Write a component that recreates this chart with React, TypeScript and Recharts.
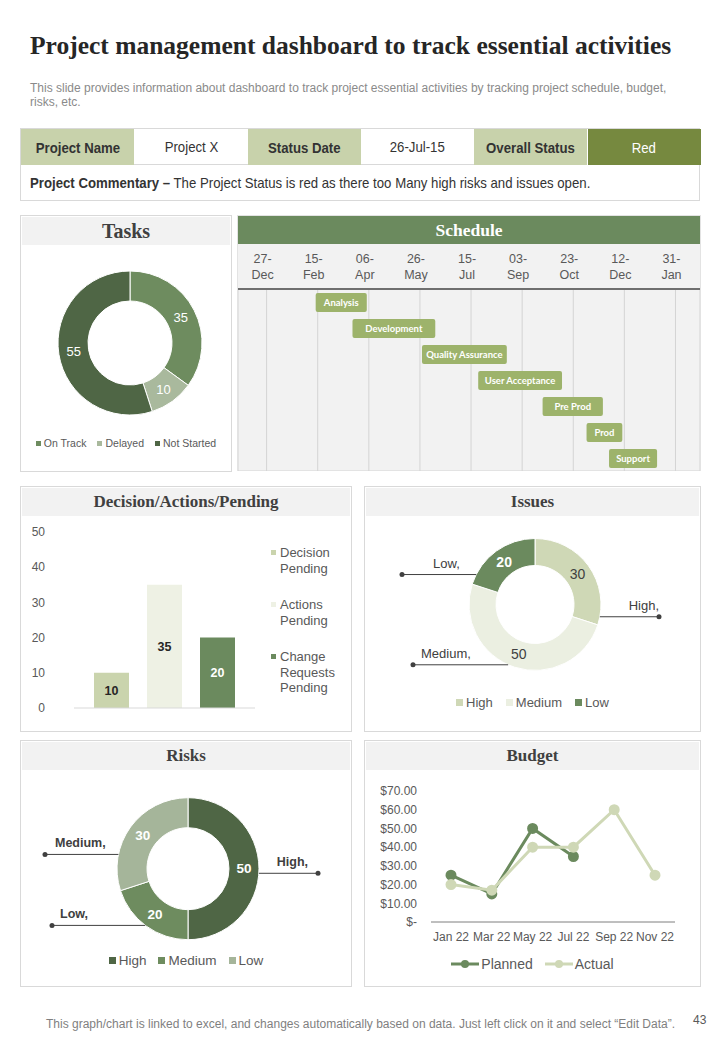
import React from 'react';
import {
  PieChart, Pie, Cell, BarChart, Bar, XAxis, YAxis, CartesianGrid, LabelList, LineChart, Line,
} from 'recharts';

const SANS = '"Liberation Sans", Arial, sans-serif';
const SERIF = '"Liberation Serif", "DejaVu Serif", serif';
const CAL = 'Lato, "Liberation Sans", sans-serif';
const TXT = '#595959';

// ---- data ----
const headerLabels = ['Project Name', 'Status Date', 'Overall Status'];
const headerValues = ['Project X', '26-Jul-15', 'Red'];

const taskNames = ['On Track', 'Delayed', 'Not Started'];
const taskValues = [35, 10, 55];
const taskColors = ['#6e8c5f', '#a9b99d', '#4f6645'];

const phaseNames = ['Analysis', 'Development', 'Quality Assurance', 'User Acceptance', 'Pre Prod', 'Prod', 'Support'];
const phaseStart = [48, 84, 152, 207, 270, 313, 335]; // days after 27-Dec
const phaseEnd = [98, 165, 235, 289, 329, 348, 382];
const scheduleTickDays = [0, 50, 100, 150, 200, 250, 300, 350, 400];
const scheduleTickLabels = [
  ['27-', 'Dec'], ['15-', 'Feb'], ['06-', 'Apr'], ['26-', 'May'], ['15-', 'Jul'],
  ['03-', 'Sep'], ['23-', 'Oct'], ['12-', 'Dec'], ['31-', 'Jan'],
];

const decisionKeys = ['decision', 'actions', 'change'];
const decisionNames = ['Decision Pending', 'Actions Pending', 'Change Requests Pending'];
const decisionValues = [10, 35, 20];
const decisionColors = ['#cad4ad', '#eef1e4', '#6b8a5e'];
const decisionLabelColors = ['#262626', '#262626', '#ffffff'];
const decisionTicks = [0, 10, 20, 30, 40, 50];

const issueNames = ['High', 'Medium', 'Low'];
const issueValues = [30, 50, 20];
const issueColors = ['#cfd8b6', '#ebefe1', '#6b8a5e'];
const issueLabelColors = ['#404040', '#404040', '#ffffff'];

const riskNames = ['High', 'Medium', 'Low'];
const riskValues = [50, 20, 30];
const riskColors = ['#4f6645', '#6e8c5f', '#a5b59a'];
const riskCalloutNames = ['High,', 'Low,', 'Medium,'];

const budgetMonths = ['Jan 22', 'Mar 22', 'May 22', 'Jul 22', 'Sep 22', 'Nov 22'];
const plannedValues = [25, 15, 50, 35, null, null];
const actualValues = [20, 17, 40, 40, 60, 25];
const budgetTicks = [0, 10, 20, 30, 40, 50, 60, 70];

// ---- built tables ----
const taskData = taskNames.map((name, i) => ({ name, value: taskValues[i] }));
const phaseData = phaseNames.map((name, i) => ({ name, span: [phaseStart[i], phaseEnd[i]] }));
const decisionRow = [decisionKeys.reduce((o: any, k, i) => { o[k] = decisionValues[i]; return o; }, { name: 'all' })];
const issueData = issueNames.map((name, i) => ({ name, value: issueValues[i] }));
const riskData = riskNames.map((name, i) => ({ name, value: riskValues[i] }));
const budgetData = budgetMonths.map((month, i) => ({ month, planned: plannedValues[i], actual: actualValues[i] }));

// ---- label placement (style only) ----
const issueCallouts = [
  { edge: -10.7, reach: 124, dx: 0, anchor: 'end' },
  { edge: -114, reach: -122, dx: 8, anchor: 'start' },
  { edge: 153, reach: -133, dx: 31, anchor: 'start' },
];
const riskCallouts = [
  { edge: -3.7, reach: 130, dx: -10, anchor: 'end' },
  { edge: -127, reach: -136, dx: 8, anchor: 'start' },
  { edge: 168.4, reach: -143, dx: 10, anchor: 'start' },
];

const RAD = Math.PI / 180;

function donutLabel(opts: any) {
  return (p: any) => {
    const { cx, cy, midAngle, innerRadius, outerRadius, value, index } = p;
    const r = (innerRadius + outerRadius) / 2;
    const x = cx + r * Math.cos(-midAngle * RAD);
    const y = cy + r * Math.sin(-midAngle * RAD);
    const c = opts.callouts ? opts.callouts[index] : null;
    let callout = null;
    if (c) {
      const ex = cx + outerRadius * Math.cos(-c.edge * RAD);
      const ey = cy + outerRadius * Math.sin(-c.edge * RAD);
      const dotX = cx + c.reach;
      callout = (
        <g>
          <line x1={ex} y1={ey} x2={dotX} y2={ey} stroke="#404040" strokeWidth={1} />
          <circle cx={dotX} cy={ey} r={2.5} fill="#404040" />
          <text x={dotX + c.dx} y={ey - 7} textAnchor={c.anchor} fill="#404040"
            fontSize={opts.calloutSize} fontWeight={opts.calloutBold ? 'bold' : 'normal'} fontFamily={SANS}>
            {opts.calloutNames[index]}
          </text>
        </g>
      );
    }
    return (
      <g>
        {callout}
        <text x={x} y={y} textAnchor="middle" dominantBaseline="central" fill={opts.colors[index]}
          fontSize={opts.size} fontWeight={opts.bold[index] ? 'bold' : 'normal'} fontFamily={SANS}>
          {value}
        </text>
      </g>
    );
  };
}

function PhaseLabel(props: any) {
  const { x, y, width, height, value } = props;
  return (
    <text x={x + width / 2} y={y + height / 2} textAnchor="middle" dominantBaseline="central"
      fill="#fff" fontSize={9.5} fontWeight="bold" fontFamily={CAL}>
      {value}
    </text>
  );
}

function Narrow({ children, scale = 0.88, origin = 'center', style }: any) {
  return (
    <span style={{ display: 'inline-block', transform: `scaleX(${scale})`, transformOrigin: origin, whiteSpace: 'nowrap', ...style }}>
      {children}
    </span>
  );
}

function Panel({ x, y, w, h, title, titleSize = 17, children }: any) {
  return (
    <div style={{ position: 'absolute', left: x, top: y, width: w, height: h, border: '1px solid #d9d9d9', boxSizing: 'border-box', background: '#fff' }}>
      <div style={{
        position: 'absolute', left: 1, top: 1, right: 1, height: 28, background: '#f2f2f2', display: 'flex',
        alignItems: 'center', justifyContent: 'center', fontFamily: SERIF, fontWeight: 'bold', fontSize: titleSize, color: '#404040',
      }}>{title}</div>
      {children}
    </div>
  );
}

function SquareLegend({ names, colors, top, fontSize, gap, square = 6 }: any) {
  return (
    <div style={{ position: 'absolute', left: 0, right: 0, top, display: 'flex', justifyContent: 'center', fontFamily: SANS, fontSize, color: TXT }}>
      {names.map((n: string, i: number) => (
        <div key={n} style={{ display: 'flex', alignItems: 'center', marginRight: i < names.length - 1 ? gap : 0 }}>
          <span style={{ width: square, height: square, background: colors[i], marginRight: 3, display: 'inline-block' }} />
          {n}
        </div>
      ))}
    </div>
  );
}

function ScheduleTick(props: any) {
  const { x, y, payload, index } = props;
  const idx = index !== undefined ? index : scheduleTickDays.indexOf(payload.value);
  const lines = scheduleTickLabels[idx] || ['', ''];
  return (
    <g>
      <text x={x - 4} y={y - 26} textAnchor="middle" fill={TXT} fontSize={12.5} fontFamily={SANS}>{lines[0]}</text>
      <text x={x - 4} y={y - 10} textAnchor="middle" fill={TXT} fontSize={12.5} fontFamily={SANS}>{lines[1]}</text>
    </g>
  );
}

const dollar = (v: number) => (v === 0 ? '$-' : `$${v.toFixed(2)}`);

export default function App() {
  return (
    <div style={{ position: 'absolute', left: 0, top: 0, width: 720, height: 1040, background: '#fff', overflow: 'hidden', fontFamily: SANS }}>
      {/* title */}
      <div style={{ position: 'absolute', left: 30, top: 31, fontFamily: SERIF, fontWeight: 'bold', fontSize: 25.5, color: '#262626', whiteSpace: 'nowrap' }}>
        Project management dashboard to track essential activities
      </div>
      <div style={{ position: 'absolute', left: 30, top: 81, width: 650, fontSize: 12, lineHeight: '14px', color: '#8a8a8a' }}>
        This slide provides information about dashboard to track project essential activities by tracking project schedule, budget,
        risks, etc.
      </div>

      {/* status table */}
      <div style={{ position: 'absolute', left: 20, top: 128, width: 680, height: 73, border: '1px solid #d9d9d9', boxSizing: 'border-box' }}>
        {headerLabels.map((lab, i) => (
          <React.Fragment key={lab}>
            <div style={{ position: 'absolute', left: i * 226.6, top: 0, width: 113.3, height: 36, background: '#c8d2ab', display: 'flex', alignItems: 'center', justifyContent: 'center', fontSize: 15, fontWeight: 'bold', color: '#333' }}>
              <Narrow>{lab}</Narrow>
            </div>
            <div style={{ position: 'absolute', left: i * 226.6 + 113.3, top: 0, width: 113.3, height: 36, background: i === 2 ? '#76893f' : '#fff', display: 'flex', alignItems: 'center', justifyContent: 'center', fontSize: 15, color: i === 2 ? '#fff' : '#333', borderBottom: i === 2 ? 'none' : '1px solid #d9d9d9', boxSizing: 'border-box' }}>
              <Narrow>{headerValues[i]}</Narrow>
            </div>
          </React.Fragment>
        ))}
        <div style={{ position: 'absolute', left: 9, top: 45, fontSize: 15, color: '#333' }}>
          <Narrow origin="left"><b>Project Commentary –</b> The Project Status is red as there too Many high risks and issues open.</Narrow>
        </div>
      </div>

      {/* Tasks */}
      <Panel x={20} y={215} w={212} h={257} title="Tasks" titleSize={20}>
        <div style={{ position: 'absolute', left: 0, top: 34 }}>
          <PieChart width={210} height={180} margin={{ top: 0, right: 0, bottom: 0, left: 0 }}>
            <Pie data={taskData} dataKey="value" nameKey="name" cx={109} cy={93} innerRadius={42} outerRadius={72}
              startAngle={90} endAngle={-270} stroke="#fff" strokeWidth={1} isAnimationActive={false} labelLine={false}
              label={donutLabel({ colors: ['#fff', '#fff', '#fff'], bold: [false, false, false], size: 13 })}>
              {taskData.map((d, i) => <Cell key={d.name} fill={taskColors[i]} />)}
            </Pie>
          </PieChart>
        </div>
        <SquareLegend names={taskNames} colors={taskColors} top={221} fontSize={10.5} gap={11} square={5} />
      </Panel>

      {/* Schedule */}
      <div style={{ position: 'absolute', left: 237, top: 215, width: 464, height: 256, background: '#f2f2f2', border: '1px solid #e3e3e3', boxSizing: 'border-box' }}>
        <div style={{ position: 'absolute', left: 0, top: 0, right: 0, height: 28, background: '#6b8a5e', display: 'flex', alignItems: 'center', justifyContent: 'center', fontFamily: SERIF, fontWeight: 'bold', fontSize: 17.5, color: '#fff' }}>
          Schedule
        </div>
        <div style={{ position: 'absolute', left: 0, top: 29 }}>
          <BarChart width={462} height={226} data={phaseData} layout="vertical" margin={{ top: 0, right: 0, bottom: 0, left: 0 }} barSize={19}>
            <CartesianGrid horizontal={false} stroke="#d4d4d4" />
            <XAxis type="number" orientation="top" domain={[-28, 424]} ticks={scheduleTickDays} height={44} interval={0}
              tickLine={false} tickSize={0} tickMargin={0} axisLine={{ stroke: '#6f6f6f', strokeWidth: 2 }} tick={<ScheduleTick />} />
            <YAxis type="category" dataKey="name" hide />
            <Bar dataKey="span" fill="#9db36b" radius={2} isAnimationActive={false}>
              <LabelList dataKey="name" content={<PhaseLabel />} />
            </Bar>
          </BarChart>
        </div>
      </div>

      {/* Decision/Actions/Pending */}
      <Panel x={20} y={486} w={332} h={246} title="Decision/Actions/Pending">
        <div style={{ position: 'absolute', left: -2, top: 33 }}>
          <BarChart width={250} height={200} data={decisionRow} margin={{ top: 12, right: 14, bottom: 11, left: 0 }} barGap={18}>
            <XAxis dataKey="name" tick={false} tickLine={false} height={1} axisLine={{ stroke: '#d9d9d9' }} />
            <YAxis domain={[0, 50]} ticks={decisionTicks} width={55} axisLine={false} tickLine={false} tickSize={0} tickMargin={29}
              interval={0} tick={{ fill: TXT, fontSize: 12, fontFamily: SANS }} />
            {decisionKeys.map((k, i) => (
              <Bar key={k} dataKey={k} fill={decisionColors[i]} barSize={35} isAnimationActive={false}>
                <LabelList dataKey={k} position="center" fill={decisionLabelColors[i]} fontSize={12.5} fontWeight="bold" fontFamily={SANS} />
              </Bar>
            ))}
          </BarChart>
        </div>
        {decisionNames.map((n, i) => (
          <div key={n} style={{ position: 'absolute', left: 250, top: 58 + i * 52, width: 75, display: 'flex', fontSize: 13, lineHeight: '15.5px', color: TXT }}>
            <span style={{ width: 5, height: 5, background: decisionColors[i], marginTop: 5, marginRight: 4, flex: 'none' }} />
            <span>{n}</span>
          </div>
        ))}
      </Panel>

      {/* Issues */}
      <Panel x={364} y={486} w={337} h={246} title="Issues">
        <div style={{ position: 'absolute', left: 0, top: 29 }}>
          <PieChart width={335} height={175} margin={{ top: 0, right: 0, bottom: 0, left: 0 }}>
            <Pie data={issueData} dataKey="value" nameKey="name" cx={170} cy={88.5} innerRadius={39} outerRadius={66}
              startAngle={90} endAngle={-270} stroke="#fff" strokeWidth={1} isAnimationActive={false} labelLine={false}
              label={donutLabel({
                colors: issueLabelColors, bold: [false, false, true], size: 14,
                callouts: issueCallouts, calloutNames: issueNames.map((n) => n + ','), calloutSize: 13, calloutBold: false,
              })}>
              {issueData.map((d, i) => <Cell key={d.name} fill={issueColors[i]} />)}
            </Pie>
          </PieChart>
        </div>
        <SquareLegend names={issueNames} colors={issueColors} top={208} fontSize={13} gap={13} square={7} />
      </Panel>

      {/* Risks */}
      <Panel x={20} y={740} w={332} h={247} title="Risks">
        <div style={{ position: 'absolute', left: 0, top: 29 }}>
          <PieChart width={330} height={185} margin={{ top: 0, right: 0, bottom: 0, left: 0 }}>
            <Pie data={riskData} dataKey="value" nameKey="name" cx={167} cy={98.7} innerRadius={41} outerRadius={71}
              startAngle={90} endAngle={-270} stroke="#fff" strokeWidth={1} isAnimationActive={false} labelLine={false}
              label={donutLabel({
                colors: ['#fff', '#fff', '#fff'], bold: [true, true, true], size: 13.5,
                callouts: riskCallouts, calloutNames: riskCalloutNames, calloutSize: 12.5, calloutBold: true,
              })}>
              {riskData.map((d, i) => <Cell key={d.name} fill={riskColors[i]} />)}
            </Pie>
          </PieChart>
        </div>
        <SquareLegend names={riskNames} colors={riskColors} top={212} fontSize={13.5} gap={12} square={7} />
      </Panel>

      {/* Budget */}
      <Panel x={364} y={740} w={337} h={247} title="Budget">
        <div style={{ position: 'absolute', left: 0, top: 39 }}>
          <LineChart width={335} height={170} data={budgetData} margin={{ top: 11, right: 25, bottom: 0, left: 0 }}>
            <XAxis dataKey="month" interval={0} padding={{ left: 20, right: 20 }} axisLine={{ stroke: '#7f7f7f' }} tickLine={false}
              tickSize={0} tickMargin={10} height={28} tick={{ fill: TXT, fontSize: 12, fontFamily: SANS }} />
            <YAxis domain={[0, 70]} ticks={budgetTicks} tickFormatter={dollar} width={66} axisLine={false} tickLine={false}
              interval={0} tickSize={0} tickMargin={14} tick={{ fill: TXT, fontSize: 12, fontFamily: SANS }} />
            <Line dataKey="planned" stroke="#6b8a5e" strokeWidth={3} dot={{ r: 4, fill: '#6b8a5e', stroke: '#6b8a5e' }} isAnimationActive={false} />
            <Line dataKey="actual" stroke="#cfd8b6" strokeWidth={3} dot={{ r: 4, fill: '#cfd8b6', stroke: '#cfd8b6' }} isAnimationActive={false} />
          </LineChart>
        </div>
        <div style={{ position: 'absolute', left: 0, right: 0, top: 215, display: 'flex', justifyContent: 'center', fontSize: 14, color: TXT }}>
          {[['Planned', '#6b8a5e'], ['Actual', '#cfd8b6']].map(([n, c], i) => (
            <div key={n} style={{ display: 'flex', alignItems: 'center', marginRight: i === 0 ? 12 : 0 }}>
              <svg width={28} height={10} style={{ marginRight: 2 }}>
                <line x1={0} y1={5} x2={28} y2={5} stroke={c} strokeWidth={3} />
                <circle cx={14} cy={5} r={4} fill={c} />
              </svg>
              {n}
            </div>
          ))}
        </div>
      </Panel>

      {/* footer */}
      <div style={{ position: 'absolute', left: 46, top: 1017, fontSize: 12, color: '#7f7f7f', whiteSpace: 'nowrap' }}>
        This graph/chart is linked to excel, and changes automatically based on data. Just left click on it and select “Edit Data”.
      </div>
      <div style={{ position: 'absolute', left: 693, top: 1013, fontSize: 12, color: '#595959' }}>43</div>
    </div>
  );
}
